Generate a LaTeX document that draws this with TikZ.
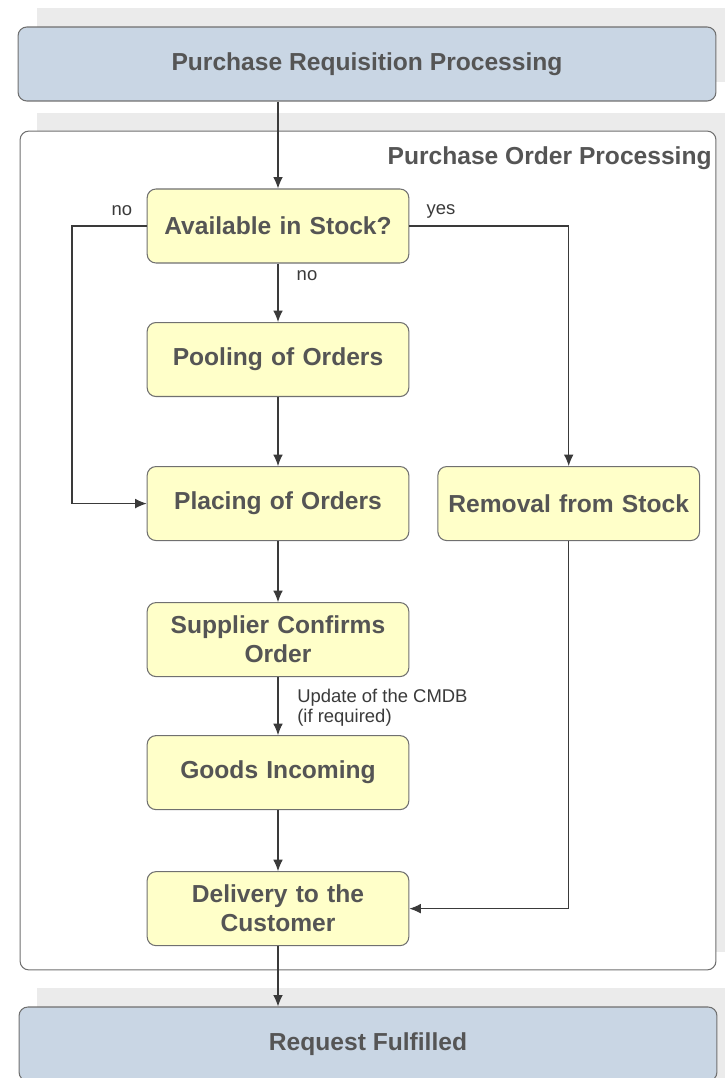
\documentclass[tikz,border=0pt]{standalone}
\usepackage{fontspec}
\setmainfont{Liberation Sans}
\usetikzlibrary{positioning}
\usetikzlibrary{arrows.meta}
\tikzset{>={Latex[length=6.5pt,width=5.5pt]}}
\definecolor{laneblue}{HTML}{C9D6E4}
\definecolor{taskyellow}{HTML}{FFFFC9}
\definecolor{shadowgray}{HTML}{EBEBEB}
\definecolor{linegray}{HTML}{707070}
\definecolor{textgray}{HTML}{555555}
\definecolor{arrowgray}{HTML}{3A3A3A}

\begin{document}
\begin{tikzpicture}[x=0.02cm, y=-0.02cm,
    task/.style={rectangle, draw=linegray, fill=taskyellow, rounded corners=5pt, line width=0.6pt,
      minimum width=5.2cm, minimum height=1.48cm, text width=5cm, align=center,
      font=\bfseries\fontsize{14}{16.5}\selectfont, text=textgray},
    lane/.style={rectangle, draw=linegray, fill=laneblue, rounded corners=5pt, line width=0.6pt,
      minimum width=13.96cm, minimum height=1.48cm,
      font=\bfseries\fontsize{14}{16.5}\selectfont, text=textgray},
    lbl/.style={font=\fontsize{10.5}{11.5}\selectfont, text=arrowgray, inner sep=0pt}]
            \useasboundingbox (0,0) rectangle (725,1078);
            \fill[shadowgray] (37,8) rectangle (725,82);
            \fill[shadowgray] (37,113) rectangle (725,952);
            \fill[shadowgray] (37,988) rectangle (725,1078);
            \node[lane] (PRP) at (367,64) {Purchase Requisition Processing};
            \node[rectangle, draw=linegray, fill=white, rounded corners=5pt, line width=0.6pt,
              minimum width=13.92cm, minimum height=16.78cm] (POP) at (368,550.5) {};
            \node[anchor=east, inner sep=0pt, font=\bfseries\fontsize{14}{16.5}\selectfont, text=textgray]
              (POPT) at (712,158) {Purchase Order Processing};
            \node[task] (AIS) at (278,226) {Available in Stock?};
            \node[task] (POO) [below=1.17cm of AIS] {Pooling of Orders};
            \node[task] (PLO) [below=1.38cm of POO] {Placing of Orders};
            \node[task] (RFS) [right=0.56cm of PLO] {Removal from Stock};
            \node[task] (SCO) [below=1.22cm of PLO] {Supplier Confirms\\Order};
            \node[task] (GI) [below=1.16cm of SCO] {Goods Incoming};
            \node[task] (DTC) [below=1.22cm of GI] {Delivery to the\\Customer};
            \node[lane] (RF) at (368,1044) {Request Fulfilled};
            \coordinate (NL) at (72,226);
            \node[lbl] (NO1) at (122,211) {no};
            \node[lbl] (YES) at (441,211) {yes};
            \node[lbl] (NO2) at (307,276) {no};
            \node[lbl, anchor=north west, align=left] (CMDB) at (297,689) {Update of the CMDB\\(if required)};
            \path[->, arrowgray, line width=0.6pt]
            (AIS|-PRP.south) edge (AIS)
            (AIS) edge (POO)
            (POO) edge (PLO)
            (PLO) edge (SCO)
            (SCO) edge (GI)
            (GI) edge (DTC)
            (DTC) edge (DTC|-RF.north);
            \draw[->, arrowgray, line width=0.6pt] (AIS.west) -- (NL) |- (PLO.west);
            \draw[->, arrowgray, line width=0.6pt] (AIS.east) -| (RFS.north);
            \draw[->, arrowgray, line width=0.6pt] (RFS.south) |- (DTC.east);
        \end{tikzpicture}
\end{document}
